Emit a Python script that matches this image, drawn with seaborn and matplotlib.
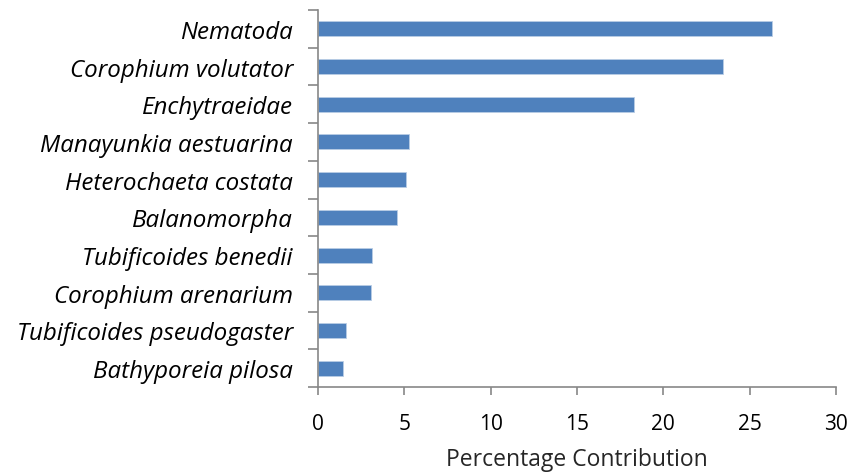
"""
Horizontal bar chart of percentage contribution per taxon
"""

import numpy as np
import pandas as pd
import matplotlib
matplotlib.use('Agg')
import matplotlib.pyplot as plt
from matplotlib.ticker import FixedLocator
import seaborn as sns

taxa = [
    'Nematoda', 'Corophium volutator', 'Enchytraeidae', 'Manayunkia aestuarina',
    'Heterochaeta costata', 'Balanomorpha', 'Tubificoides benedii',
    'Corophium arenarium', 'Tubificoides pseudogaster', 'Bathyporeia pilosa',
]
contribution = [26.3, 23.45, 18.3, 5.29, 5.08, 4.6, 3.13, 3.05, 1.6, 1.45]
x_ticks = [0, 5, 10, 15, 20, 25, 30]

sns.set_theme(style='white')
plt.rcParams['font.family'] = ['Open Sans', 'DejaVu Sans']

df = pd.DataFrame({'taxon': taxa, 'pct': contribution})

fig = plt.figure(figsize=(8.52, 4.77), dpi=100)
ax = fig.add_axes([318 / 852, 1 - 388 / 477, (836 - 318) / 852, (388 - 11) / 477])

sns.barplot(data=df, x='pct', y='taxon', color='#4F81BD', saturation=1,
            width=0.4, edgecolor='#B9CDE5', linewidth=0.6, ax=ax)

ax.set_xlim(0, 30)
ax.set_ylim(len(taxa) - 0.5, -0.5)
ax.set_xticks(x_ticks)
ax.set_xticklabels([str(t) for t in x_ticks], fontsize=15)
ax.set_yticks(range(len(taxa)))
ax.set_yticklabels(taxa, fontsize=17.4, style='italic')
ax.yaxis.set_minor_locator(FixedLocator(np.arange(-0.5, len(taxa), 1)))

gray = '#878787'
for side in ['top', 'right']:
    ax.spines[side].set_visible(False)
for side in ['left', 'bottom']:
    ax.spines[side].set_color(gray)
    ax.spines[side].set_linewidth(1.2)

ax.tick_params(axis='y', which='major', length=0, pad=18, colors='black')
ax.tick_params(axis='y', which='minor', length=7, width=1.2, color=gray, left=True)
ax.tick_params(axis='x', which='major', length=6, width=1.2, color=gray,
               bottom=True, pad=13, labelcolor='black')

ax.set_ylabel('')
ax.set_xlabel('Percentage Contribution', fontsize=16.5, labelpad=9)

plt.savefig('out.png', dpi=100)
plt.close()
